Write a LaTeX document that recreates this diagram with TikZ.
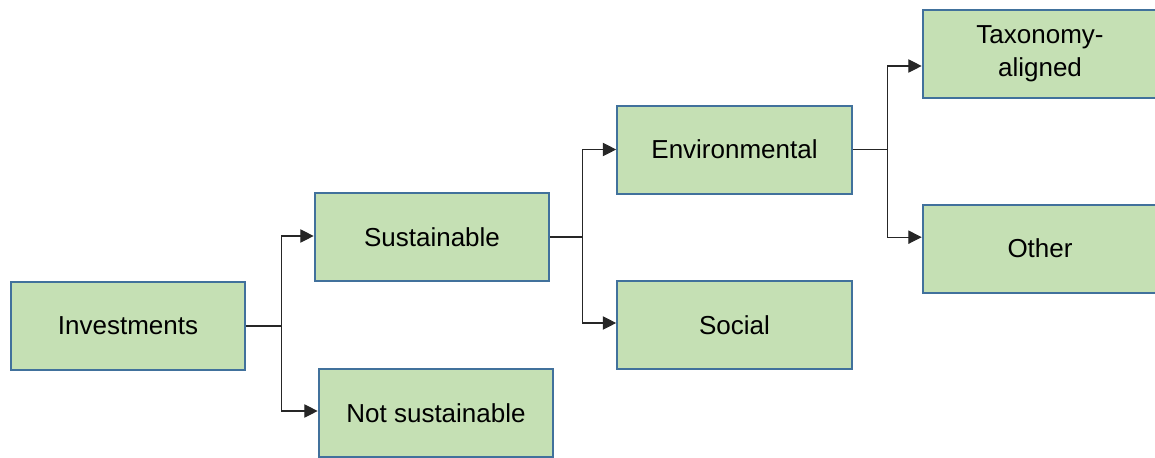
\documentclass[tikz,border=0pt]{standalone}
\usepackage{fontspec}
\setmainfont{Liberation Sans}
\usetikzlibrary{arrows.meta}

\definecolor{boxfill}{HTML}{C5E0B4}
\definecolor{boxline}{HTML}{41719C}

\begin{document}
\begin{tikzpicture}[x=0.75pt, y=-0.75pt,
        box/.style={draw=boxline, fill=boxfill, line width=1.5pt,
            minimum width=176pt, minimum height=66pt, inner sep=0pt,
            align=center, font=\fontsize{19.5}{24.5}\selectfont},
        link/.style={draw=black!85, line width=0.8pt,
            -{Triangle[length=10pt, width=10pt]}}]
        \useasboundingbox (0,0) rectangle (1155,457);
        \clip (0,0) rectangle (1155,457);
        \node[box] (inv)    at (128,   326)   {Investments};
        \node[box] (sus)    at (432,   237)   {Sustainable};
        \node[box] (notsus) at (436,   413)   {Not sustainable};
        \node[box] (env)    at (734.5, 149.5) {Environmental};
        \node[box] (soc)    at (734.5, 325)   {Social};
        \node[box] (tax)    at (1040,  54)    {Taxonomy-\\aligned};
        \node[box] (oth)    at (1040,  248.5) {Other};
        \draw[link] (inv.east) -- ++(35,0) |- ([yshift=0.75pt]sus.west);
        \draw[link] (inv.east) -- ++(35,0) |- ([yshift=1.5pt]notsus.west);
        \draw[link] (sus.east) -- ++(32,0) |- (env.west);
        \draw[link] (sus.east) -- ++(32,0) |- ([yshift=1.5pt]soc.west);
        \draw[link] (env.east) -- ++(35,0) |- ([yshift=-9pt]tax.west);
        \draw[link] (env.east) -- ++(35,0) |- ([yshift=8.5pt]oth.west);
\end{tikzpicture}
\end{document}
